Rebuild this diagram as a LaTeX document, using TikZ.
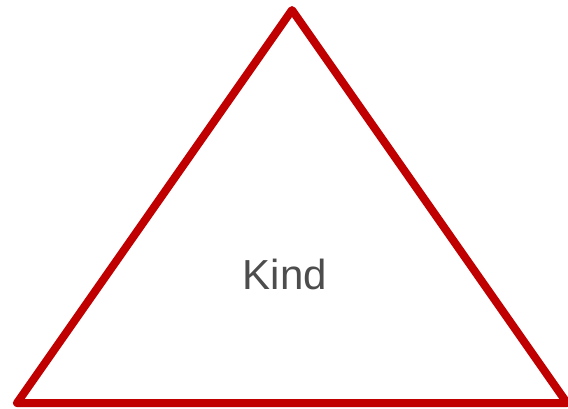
\documentclass[tikz,border=0pt]{standalone}
\usepackage{fontspec}
\setmainfont{Liberation Sans}
\definecolor{tri}{HTML}{C00000}
\definecolor{txt}{HTML}{4D4D4D}
\begin{document}
\begin{tikzpicture}[x=1pt,y=-1pt,
  triline/.style={draw=tri,line width=8pt,line join=round,line cap=round}]
\useasboundingbox (0,0) rectangle (568,408);
\coordinate (apex) at (292,10);
\coordinate (bl) at (17,403);
\coordinate (br) at (567,403);
\draw[triline] (apex) -- (br) -- (bl) -- cycle;
\node[anchor=base,text=txt,font=\fontsize{42}{48}\selectfont,inner sep=0pt] (label) at (285,289) {Kind};
\end{tikzpicture}
\end{document}
